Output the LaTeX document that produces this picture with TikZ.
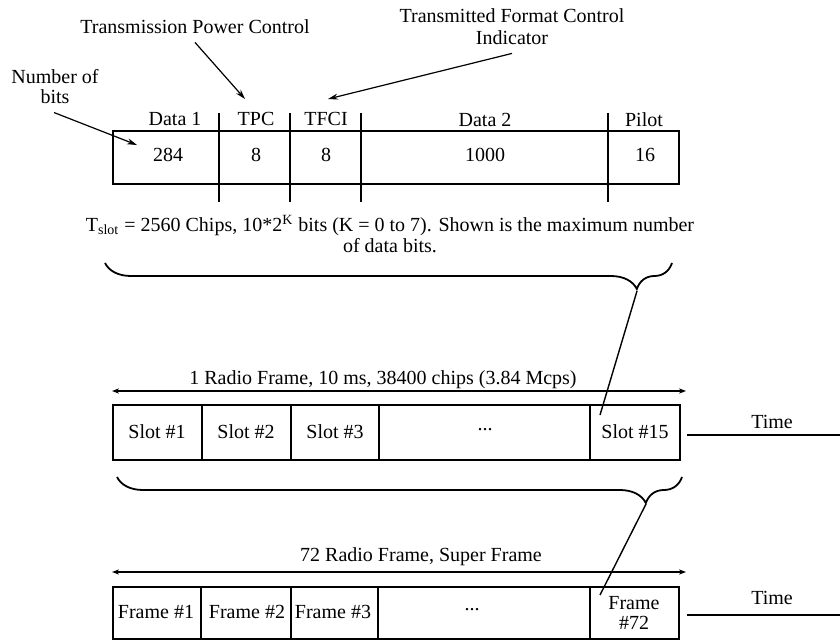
\documentclass[tikz,border=0pt]{standalone}
\usepackage{fontspec}
\setmainfont{Liberation Serif}
\usetikzlibrary{arrows.meta,decorations.pathreplacing,positioning}
\tikzset{
  every node/.style={font=\fontsize{10}{10}\selectfont, inner sep=1pt},
  field/.style={draw, line width=0.7pt},
  divider/.style={draw, line width=0.7pt},
  pointer/.style={-{Stealth[length=5pt,width=3pt]}, draw, line width=0.6pt},
  span/.style={{Stealth[length=3.5pt,width=2.6pt]}-{Stealth[length=3.5pt,width=2.6pt]}, draw, line width=0.8pt},
  bracket/.style={decorate, decoration={brace, mirror, amplitude=13pt, aspect=#1}, draw, line width=0.9pt},
  link/.style={draw, line width=0.7pt},
  timeline/.style={draw, line width=0.9pt},
}

\begin{document}
\begin{tikzpicture}[x=0.5pt,y=-0.5pt]
  \fill[white] (0,0) rectangle (840,640);
  \useasboundingbox (0,0) rectangle (840,640);
  % Slot format, bits per field
  \draw[field] (113,131) rectangle (679,184);
  \foreach \x in {219,290,361,608} \draw[divider] (\x,113) -- (\x,202);
  \node (ldata1) at (175,119) {Data 1};
  \node (ltpc) at (256,119) {TPC};
  \node (ltfci) at (326,119) {TFCI};
  \node (ldata2) at (485,120) {Data 2};
  \node (lpilot) at (644,120) {Pilot};
  \node (v284) at (168,155) {284};
  \node (vtpc) at (256,155) {8};
  \node (vtfci) at (326,155) {8};
  \node (v1000) at (485,155) {1000};
  \node (v16) at (645,155) {16};
  % Notes with pointers
  \node[align=center] (nbits) at (55,87) {Number of\\bits};
  \node (tpcnote) at (195,27) {Transmission Power Control};
  \node[align=center, font=\fontsize{10}{11}\selectfont] (tfcinote) at (512,27) {Transmitted Format Control\\Indicator};
  \coordinate (bitstip) at (137,145);
  \coordinate (tpctip) at (245,99);
  \coordinate (tfcitip) at (328,99);
  \draw[pointer] ([yshift=-3pt]nbits.south -| 54,0) -- (bitstip);
  \draw[pointer] ([yshift=-3pt]tpcnote.south) -- (tpctip);
  \draw[pointer] ([yshift=-3pt]tfcinote.south) -- (tfcitip);
  % Slot length
  \node[align=center, font=\fontsize{10}{10.5}\selectfont] (slotcaption) at (390,234)
    {T\textsubscript{slot} = 2560 Chips, 10*2\textsuperscript{K} bits (K = 0 to 7). Shown is the maximum number\\of data bits.};
  \draw[bracket=0.938] (105,263) -- (672,263);
  \coordinate (slotbrace) at (637,291);
  % Radio frame
  \node (radioframe) at (383,380) {1 Radio Frame, 10 ms, 38400 chips (3.84 Mcps)};
  \draw[span] (112,391) -- (686,391);
  \draw[field] (113,405) rectangle (680,460);
  \foreach \x in {202,291,379,590} \draw[divider] (\x,405) -- (\x,460);
  \node (slot1) at (157,432) {Slot \#1};
  \node (slot2) at (246,432) {Slot \#2};
  \node (slot3) at (335,432) {Slot \#3};
  \node (slotdots) at (485,430) {...};
  \node (slot15) at (635,432) {Slot \#15};
  \coordinate (slotend) at (600,415);
  \draw[link] (slotbrace) -- (slotend);
  \node (time1) at (772,422) {Time};
  \draw[timeline] (687,435) -- (840,435);
  \draw[bracket=0.936] (117,477) -- (682,477);
  \coordinate (framebrace) at (646,504);
  % Super frame
  \node (superframe) at (421,557) {72 Radio Frame, Super Frame};
  \draw[span] (112,572) -- (686,572);
  \draw[field] (113,587) rectangle (679,639);
  \foreach \x in {201,291,378,590} \draw[divider] (\x,587) -- (\x,639);
  \node (frame1) at (156,612) {Frame \#1};
  \node (frame2) at (247,612) {Frame \#2};
  \node (frame3) at (333,612) {Frame \#3};
  \node (framedots) at (472,610) {...};
  \node[align=center] (frame72) at (634,613) {Frame\\\#72};
  \coordinate (frameend) at (600,595);
  \draw[link] (framebrace) -- (frameend);
  \node (time2) at (772,598) {Time};
  \draw[timeline] (687,615) -- (840,615);
\end{tikzpicture}
\end{document}
